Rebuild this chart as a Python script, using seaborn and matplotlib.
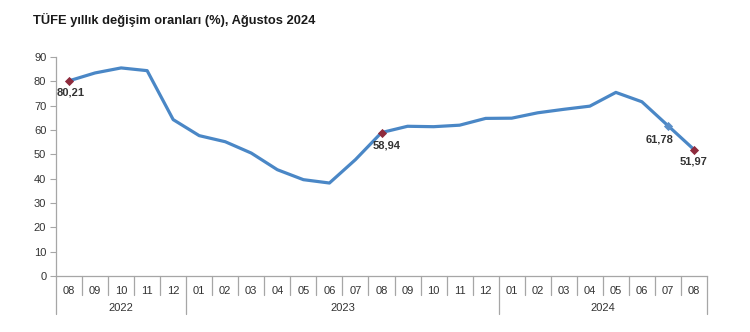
import matplotlib
matplotlib.use("Agg")
import matplotlib.pyplot as plt
import seaborn as sns
import pandas as pd
import numpy as np

months = ["08", "09", "10", "11", "12",
          "01", "02", "03", "04", "05", "06", "07", "08", "09", "10", "11", "12",
          "01", "02", "03", "04", "05", "06", "07", "08"]
years = ["2022"] * 5 + ["2023"] * 12 + ["2024"] * 8
values = [80.21, 83.45, 85.51, 84.39, 64.27,
          57.68, 55.18, 50.51, 43.68, 39.59, 38.21, 47.83, 58.94, 61.53, 61.36, 61.98, 64.77,
          64.86, 67.07, 68.50, 69.80, 75.45, 71.60, 61.78, 51.97]
labelled = {0: "80,21", 12: "58,94", 23: "61,78", 24: "51,97"}
year_labels = ["2022", "2023", "2024"]

df = pd.DataFrame({"pos": np.arange(len(values)), "month": months, "year": years, "value": values})

sns.set_style("white")
plt.rcParams['font.family'] = ['Liberation Sans', 'DejaVu Sans']

fig = plt.figure(figsize=(7.5, 3.32), dpi=100)
ax = fig.add_axes([56/750, (332-276)/332, (707-56)/750, (276-57)/332])

line_c = "#4a87c6"
red_c = "#8e2b3d"
grey = "#a6a6a6"
txt = "#333333"

sns.lineplot(data=df, x="pos", y="value", ax=ax, color=line_c, linewidth=2.3)

red_idx = [0, 12, 24]
sub = df.iloc[red_idx]
ax.scatter(sub["pos"], sub["value"], marker="D", s=22, color=red_c, zorder=5, linewidths=0)
sub2 = df.iloc[[23]]
ax.scatter(sub2["pos"], sub2["value"], marker="D", s=22, color="#5b8fc8", zorder=5, linewidths=0)

offsets = {0: (1, -5), 12: (4, -5.5), 23: (-6, -6), 24: (0, -5)}
for i, lab in labelled.items():
    dx, dy = offsets[i]
    ax.annotate(lab, (i, values[i]), xytext=(dx, dy), textcoords="offset points",
                ha="center", va="top", fontsize=8, fontweight="bold", color=txt)

n = len(values)
ax.set_xlim(-0.5, n - 0.5)
ax.set_ylim(0, 90)
ax.set_yticks(range(0, 91, 10))
ax.tick_params(axis="y", labelsize=8, colors=grey, labelcolor=txt, length=4, width=0.8, pad=3, left=True)

ax.set_xticks(df["pos"])
ax.set_xticklabels(months)
ax.tick_params(axis="x", length=0, labelsize=8, labelcolor=txt, pad=7)

for s in ["top", "right"]:
    ax.spines[s].set_visible(False)
for s in ["left", "bottom"]:
    ax.spines[s].set_color(grey)
    ax.spines[s].set_linewidth(0.9)
ax.set_xlabel("")
ax.set_ylabel("")
ax.grid(False)

# separators under the category axis
trans = ax.get_xaxis_transform()
h = 276 - 57
short = -(295 - 276) / h
long_ = -(314 - 276) / h
bounds = [i - 0.5 for i in range(n + 1)]
year_bounds = [-0.5]
for i in range(1, n):
    if years[i] != years[i - 1]:
        year_bounds.append(i - 0.5)
year_bounds.append(n - 0.5)
for b in bounds:
    bottom = long_ if b in year_bounds else short
    ax.plot([b, b], [0, bottom], transform=trans, color=grey, lw=0.9, clip_on=False)

for k, y in enumerate(year_labels):
    a, b = year_bounds[k], year_bounds[k + 1]
    ax.text((a + b) / 2, -(308 - 276) / h, y, transform=trans, ha="center", va="center",
            fontsize=8, color=txt)

fig.text(33/750, 1 - 20/332, "TÜFE yıllık değişim oranları (%), Ağustos 2024",
         fontsize=9.3, fontweight="bold", color="#1a1a1a", ha="left", va="center")

fig.savefig("out.png", dpi=100)
